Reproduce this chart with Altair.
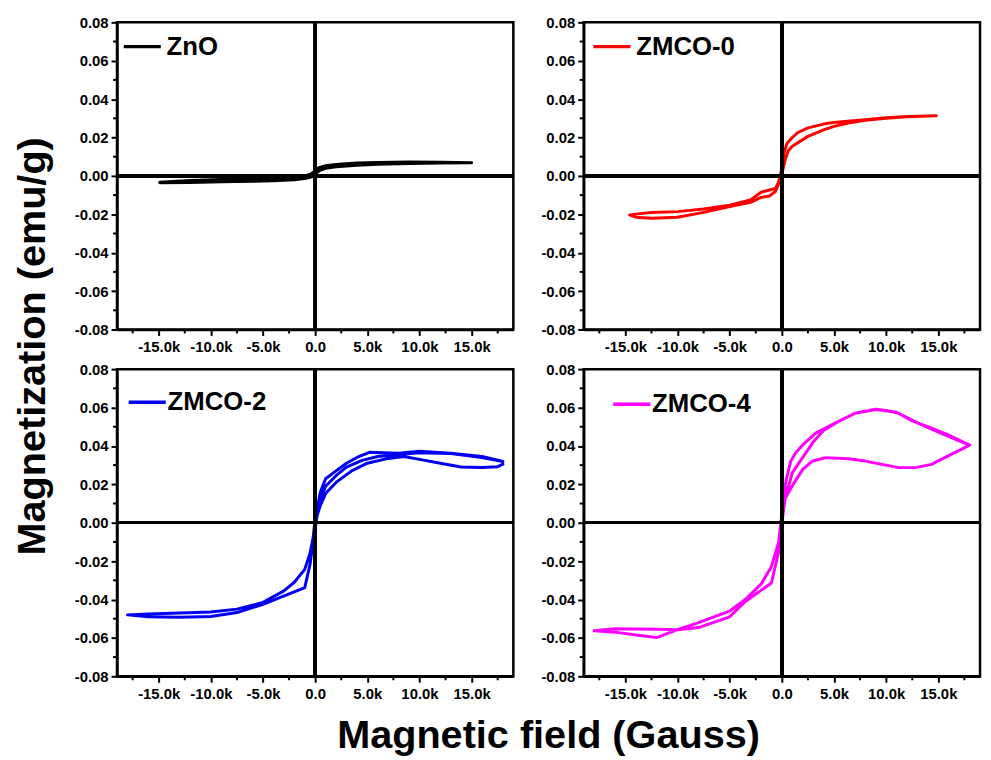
import altair as alt
import pandas as pd

FONT = "Liberation Sans"

# ---- data (H in Gauss, M in emu/g), in sweep order ----
H_zno = [15000, 12000, 9000, 6000, 4000, 2000, 1000, 300, 0, -500, -1000, -2000, -4000, -6000, -9000, -12000, -14900,
         -14900, -12000, -9000, -6000, -4000, -2000, -1000, -300, 0, 500, 1000, 2000, 4000, 6000, 9000, 12000, 15000]
M_zno = [0.0069, 0.0071, 0.0072, 0.0070, 0.0067, 0.0060, 0.0053, 0.0042, 0.0025, 0.0008, 0.0000, -0.0005, -0.0009, -0.0013, -0.0018, -0.0024, -0.0033,
         -0.0035, -0.0034, -0.0031, -0.0028, -0.0025, -0.0020, -0.0014, -0.0005, 0.0010, 0.0030, 0.0040, 0.0048, 0.0056, 0.0061, 0.0065, 0.0067, 0.0069]

H_z0 = [14800, 12000, 10000, 8000, 6000, 5000, 4000, 2500, 1500, 1000, 500, 200, 0, -300, -600, -1100, -2000, -3000, -5000, -7500, -10000, -12500, -14600,
        -14000, -12500, -10000, -7500, -5000, -3000, -2000, -1200, -600, -300, 0, 300, 600, 1000, 2500, 4000, 5000, 6500, 8000, 10000, 12000, 14800]
M_z0 = [0.0313, 0.0310, 0.0303, 0.0293, 0.0283, 0.0279, 0.0270, 0.0250, 0.0225, 0.0200, 0.0170, 0.0120, 0.0040, -0.0030, -0.0065, -0.0072, -0.0085, -0.0125, -0.0152, -0.0172, -0.0186, -0.0190, -0.0203,
        -0.0215, -0.0220, -0.0215, -0.0190, -0.0160, -0.0138, -0.0112, -0.0105, -0.0080, -0.0040, 0.0010, 0.0080, 0.0130, 0.0155, 0.0206, 0.0240, 0.0258, 0.0277, 0.0290, 0.0300, 0.0308, 0.0313]

H_z2 = [0, 500, 1000, 2000, 3000, 4500, 6000, 8000, 10000, 13000, 16000, 18000,
        16000, 13000, 10000, 8000, 6500, 5200, 4000, 3000, 2000, 1000, 500, 0, -200, -500, -1000, -2000, -3000, -5000, -7500, -10000, -13000, -16000, -18000,
        -16000, -13000, -10000, -7500, -5000, -3400, -2000, -1000, -500, -100, 200, 500, 1000, 2000, 3500, 5000, 7000, 8500, 10000, 12000, 14000, 16000, 17500, 18000]
M_z2 = [0.0000, 0.0120, 0.0190, 0.0245, 0.0290, 0.0325, 0.0345, 0.0355, 0.0365, 0.0360, 0.0340, 0.0319,
        0.0345, 0.0362, 0.0372, 0.0362, 0.0365, 0.0367, 0.0340, 0.0310, 0.0270, 0.0229, 0.0160, 0.0020, -0.0080, -0.0160, -0.0243, -0.0310, -0.0355, -0.0415, -0.0450, -0.0465, -0.0470, -0.0476, -0.0480,
        -0.0490, -0.0492, -0.0488, -0.0468, -0.0425, -0.0390, -0.0360, -0.0338, -0.0220, -0.0063, 0.0040, 0.0090, 0.0152, 0.0210, 0.0270, 0.0310, 0.0335, 0.0345, 0.0330, 0.0310, 0.0290, 0.0288, 0.0292, 0.0305]

H_z4 = [0, 300, 1000, 2000, 3000, 4000, 5500, 7000, 9000, 11000, 13000, 15500, 18000,
        15900, 14350, 12500, 11200, 10000, 9000, 7000, 5100, 3240, 2000, 1330, 850, 400, 0, -300, -1000, -2000, -3500, -5000, -8000, -10000, -12000, -16000, -18000,
        -16000, -14000, -12000, -10000, -8000, -5000, -3500, -1000, -300, 0, 300, 1000, 2000, 2900, 4200, 6400, 8000, 9600, 11200, 12800, 14350, 15900, 18000]
M_z4 = [0.0000, 0.0120, 0.0260, 0.0340, 0.0420, 0.0480, 0.0530, 0.0570, 0.0590, 0.0575, 0.0520, 0.0460, 0.0404,
        0.0459, 0.0493, 0.0530, 0.0570, 0.0585, 0.0591, 0.0570, 0.0519, 0.0467, 0.0405, 0.0364, 0.0320, 0.0220, 0.0050, -0.0100, -0.0229, -0.0320, -0.0400, -0.0460, -0.0520, -0.0557, -0.0555, -0.0552, -0.0563,
        -0.0570, -0.0585, -0.0598, -0.0557, -0.0546, -0.0490, -0.0410, -0.0314, -0.0150, 0.0000, 0.0124, 0.0192, 0.0278, 0.0320, 0.0339, 0.0333, 0.0321, 0.0304, 0.0287, 0.0287, 0.0304, 0.0347, 0.0404]

samples = ["ZnO", "ZMCO-0", "ZMCO-2", "ZMCO-4"]
colors = ["#000000", "#ff0000", "#0000f0", "#ff00ff"]

x_major = [-15000, -10000, -5000, 0, 5000, 10000, 15000]
x_minor = [-17500, -12500, -7500, -2500, 2500, 7500, 12500, 17500]
y_major = [-0.08, -0.06, -0.04, -0.02, 0.0, 0.02, 0.04, 0.06, 0.08]
y_minor = [-0.07, -0.05, -0.03, -0.01, 0.01, 0.03, 0.05, 0.07]

W, H = 400, 310

xaxis = alt.Axis(
    values=x_major, title=None, grid=False, labelOverlap=False, labelFlush=False, tickSize=6, labelPadding=4,
    labelExpr="datum.value === 0 ? '0.0' : (datum.value < 0 ? '-' : '') + format(abs(datum.value) / 1000, '.1f') + 'k'",
)
yaxis = alt.Axis(
    values=y_major, title=None, grid=False, labelOverlap=False, labelFlush=False, tickSize=6, labelPadding=3,
    labelExpr="(datum.value < -0.0001 ? '-' : '') + format(abs(datum.value), '.2f')",
)
xs = alt.Scale(domain=[-19000, 19000], nice=False, zero=False)
ys = alt.Scale(domain=[-0.08, 0.08], nice=False, zero=False)


def panel(name, color, hs, ms, lx, ly, loff):
    df = pd.DataFrame({"H": hs, "M": ms, "i": list(range(len(hs))), "sample": name})
    line = alt.Chart(df).mark_line(strokeWidth=3, strokeJoin="round", strokeCap="round", clip=True).encode(
        x=alt.X("H:Q", scale=xs, axis=xaxis),
        y=alt.Y("M:Q", scale=ys, axis=yaxis),
        order=alt.Order("i:Q"),
        color=alt.Color("sample:N", scale=alt.Scale(domain=[name], range=[color]),
                        legend=alt.Legend(orient="none", legendX=lx, legendY=ly, title=None,
                                          symbolType="stroke", symbolSize=1400, symbolStrokeWidth=3.5,
                                          labelFont=FONT, labelFontSize=26, labelFontWeight="bold",
                                          labelColor="black", labelOffset=loff, padding=0)),
    )
    hrule = alt.Chart(df).mark_rule(color="black", strokeWidth=2.5).encode(
        y=alt.Y(datum=0, scale=ys, axis=yaxis))
    vrule = alt.Chart(df).mark_rule(color="black", strokeWidth=2.5).encode(
        x=alt.X(datum=0, scale=xs, axis=xaxis))
    xmin = alt.Chart(pd.DataFrame({"v": x_minor})).mark_rule(color="black", strokeWidth=2).encode(
        x=alt.X("v:Q", scale=xs, axis=xaxis), y=alt.value(H), y2=alt.value(H + 4))
    ymin = alt.Chart(pd.DataFrame({"v": y_minor})).mark_rule(color="black", strokeWidth=2).encode(
        y=alt.Y("v:Q", scale=ys, axis=yaxis), x=alt.value(0), x2=alt.value(-4))
    return alt.layer(line, hrule, vrule, xmin, ymin).properties(width=W, height=H)


p1 = panel(samples[0], colors[0], H_zno, M_zno, 5, 4, 4)
p2 = panel(samples[1], colors[1], H_z0, M_z0, 8, 4, 4)
p3 = panel(samples[2], colors[2], H_z2, M_z2, 10, 13, 0)
p4 = panel(samples[3], colors[3], H_z4, M_z4, 28, 15, 0)

grid = alt.concat(p1, p2, p3, p4, columns=2, spacing={"row": 40, "column": 71}, bounds="flush").resolve_scale(
    color="independent").resolve_legend(color="independent").properties(
    title=alt.TitleParams("Magnetic field (Gauss)", orient="bottom", anchor="middle",
                          font=FONT, fontSize=40, fontWeight="bold", color="black", offset=14, dx=21)
)
chart = alt.hconcat(grid).properties(
    title=alt.TitleParams("Magnetization (emu/g)", orient="left", anchor="middle",
                          font=FONT, fontSize=40, fontWeight="bold", color="black", offset=20, dx=39),
    padding={"left": 5, "top": 2, "right": 0, "bottom": 0},
    background="white",
).configure_view(stroke="black", strokeWidth=2.5).configure_axis(
    labelFont=FONT, labelFontSize=15, labelFontWeight="bold", labelColor="black",
    domainColor="black", domainWidth=2.5, tickColor="black", tickWidth=2,
)

chart.save("out.html", embed_options={"renderer": "svg", "actions": False})
